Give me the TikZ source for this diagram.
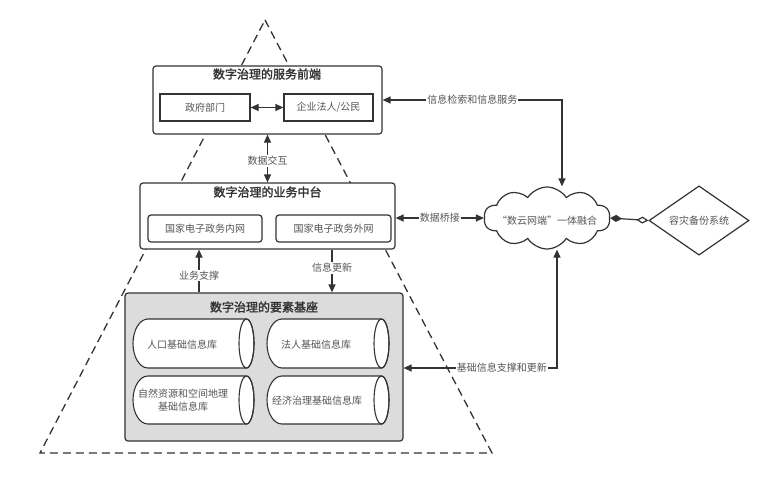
\documentclass[tikz,border=0pt]{standalone}
\usepackage{fontspec}
\setmainfont{Noto Sans CJK SC}
\newfontfamily\titlefont[FakeBold=2]{Noto Sans CJK SC}
\usetikzlibrary{arrows.meta,shapes.geometric,shapes.symbols}
\definecolor{ln}{HTML}{333333}
\definecolor{tx}{HTML}{555555}
\definecolor{gfill}{HTML}{DCDCDC}
\newcommand{\cylbox}[4]{%
  \draw[ln, line width=1.1pt, fill=white]
    (#1+15,#2) -- (#3-7.5,#2)
    arc[start angle=270, end angle=450, x radius=7.5, y radius={(#4-#2)/2}]
    -- (#1+15,#4)
    arc[start angle=90, end angle=270, x radius=15, y radius={(#4-#2)/2}] -- cycle;
  \draw[ln, line width=1.1pt] (#3-7.5,{(#2+#4)/2}) ellipse [x radius=7.5, y radius={(#4-#2)/2}];}
\begin{document}
\begin{tikzpicture}[x=1pt, y=-1pt,
  frame/.style={draw=ln, line width=1.2pt, rounded corners=3pt, fill=white, inner sep=0pt},
  inbox/.style={draw=ln, line width=1.2pt, fill=white, text=tx, inner sep=0pt, font=\fontsize{10}{12}\selectfont},
  lbl/.style={fill=white, text=tx, inner sep=1pt, font=\fontsize{10}{12}\selectfont},
  ttl/.style={text=ln, inner sep=0pt, font=\titlefont\fontsize{12}{14}\selectfont},
  cyltext/.style={text=tx, inner sep=0pt, align=center, font=\fontsize{10}{13}\selectfont},
  tip/.tip={Triangle[length=8pt,width=7pt]},
  arr/.style={draw=ln, line width=1.2pt, -tip},
  darr/.style={draw=ln, line width=1.2pt, tip-tip}]
\useasboundingbox (0,0) rectangle (759,485);
% dashed pyramid
\draw[ln, line width=1.3pt, dash pattern=on 8pt off 5pt] (265,20) -- (492,453) -- (40,453) -- cycle;
% front
\node[frame, minimum width=229, minimum height=68] (front) at (267.5,100) {};
\node[ttl] (frontt) at (267,74) {数字治理的服务前端};
\node[inbox, minimum width=90, minimum height=27] (gov) at (205,107.5) {政府部门};
\node[inbox, minimum width=89, minimum height=27] (ent) at (328.5,107.5) {企业法人/公民};
% middle
\node[frame, minimum width=255, minimum height=66] (mid) at (267.5,216) {};
\node[ttl] (midt) at (267.5,192) {数字治理的业务中台};
\node[inbox, rounded corners=3pt, minimum width=114, minimum height=27] (inn) at (205,228.5) {国家电子政务内网};
\node[inbox, rounded corners=3pt, minimum width=115, minimum height=27] (out) at (333.5,228.5) {国家电子政务外网};
% base
\node[frame, fill=gfill, minimum width=278, minimum height=148] (base) at (264,367) {};
\node[ttl] (baset) at (264,307) {数字治理的要素基座};
\cylbox{133}{319}{254}{368}
\cylbox{267}{319}{389}{368}
\cylbox{133}{376}{254}{424}
\cylbox{267}{376}{389}{424}
\node[cyltext] (pop) at (182,345) {人口基础信息库};
\node[cyltext] (leg) at (316,345) {法人基础信息库};
\node[cyltext] (nat) at (183,400.5) {自然资源和空间地理\\基础信息库};
\node[cyltext] (eco) at (317,401) {经济治理基础信息库};
% cloud and diamond
\node[cloud, cloud puffs=10, cloud puff arc=115, aspect=2, draw=ln, line width=1.2pt, fill=white,
      minimum width=126, minimum height=62, inner sep=0pt] (cloud) at (547,218) {};
\node[text=tx, inner sep=0pt, font=\fontsize{10}{12}\selectfont] (cloudt) at (547,221) {“数云网端”一体融合};
\node[diamond, draw=ln, line width=1.2pt, fill=white, minimum width=100, minimum height=67, inner sep=0pt,
      text=tx, font=\fontsize{10}{12}\selectfont] (dia) at (699,220.5) {容灾备份系统};
% connectors
\draw[darr] (gov) -- (ent);
\draw[darr] (front.south) -- (mid.north) node[lbl, pos=0.55] {数据交互};
\draw[arr] ([xshift=-65pt]base.north) -- ([xshift=-65pt]base.north |- mid.south) node[lbl, pos=0.39] {业务支撑};
\draw[arr] ([xshift=64.5pt]mid.south) -- ([xshift=64.5pt]mid.south |- base.north) node[lbl, pos=0.43] {信息更新};
\draw[darr] (front.east) -| ([xshift=15pt]cloud.north) node[lbl, pos=0.25] {信息检索和信息服务};
\draw[darr] (cloud.west -| mid.east) -- (cloud.west) node[lbl, midway] {数据桥接};
\draw[darr] (base.east |- 0,368) -| ([xshift=10pt]cloud.south) node[lbl, pos=0.32] {基础信息支撑和更新};
\draw[ln, line width=1.2pt, {Diamond[length=12pt,width=7pt]}-{Diamond[open,length=12pt,width=7pt]}] (cloud.east) -- (dia.west);
\end{tikzpicture}
\end{document}
